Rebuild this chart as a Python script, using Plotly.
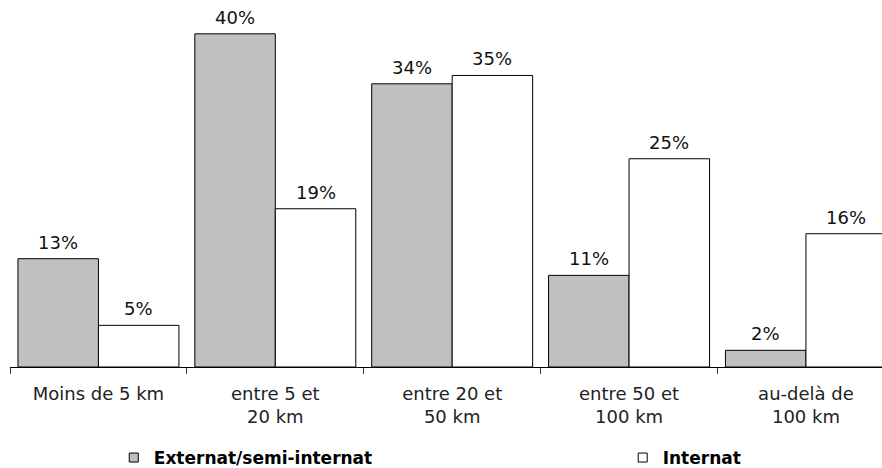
import plotly.graph_objects as go

# Distance between home and school, share of pupils per regime
categories = [
    "Moins de 5 km",
    "entre 5 et<br>20 km",
    "entre 20 et<br>50 km",
    "entre 50 et<br>100 km",
    "au-delà de<br>100 km",
]
externat = [13, 40, 34, 11, 2]
internat = [5, 19, 35, 25, 16]
series_names = ["Externat/semi-internat", "Internat"]

fill_externat = "#C0C0C0"
fill_internat = "#FFFFFF"
edge = "#000000"
font_family = "DejaVu Sans, Verdana, sans-serif"

bargap = 0.09
half_bar = (1 - bargap) / 4  # centre offset of each bar within its group

fig = go.Figure()

for vals, fill in ((externat, fill_externat), (internat, fill_internat)):
    fig.add_trace(go.Bar(
        x=categories,
        y=vals,
        marker=dict(color=fill, line=dict(color=edge, width=1)),
        showlegend=False,
        hoverinfo="skip",
    ))

# value labels above each bar
for side, vals in ((-1, externat), (1, internat)):
    for i, v in enumerate(vals):
        fig.add_annotation(
            x=i + side * half_bar, y=v,
            xref="x", yref="y",
            text=f"{v}%",
            showarrow=False,
            yanchor="bottom",
            yshift=4,
            font=dict(family=font_family, size=18, color="#111111"),
        )

# legend keys: small square markers, one legend box per series
for name, fill, leg in ((series_names[0], fill_externat, "legend"),
                        (series_names[1], fill_internat, "legend2")):
    fig.add_trace(go.Scatter(
        x=[None], y=[None],
        mode="markers",
        name=name,
        marker=dict(symbol="square", size=9, color=fill,
                    line=dict(color=edge, width=1)),
        legend=leg,
    ))

legend_font = dict(family=font_family, size=17, color="#000000", weight="bold")

fig.update_layout(
    width=882,
    height=468,
    margin=dict(l=10, r=0, t=0, b=101),
    paper_bgcolor="white",
    plot_bgcolor="white",
    barmode="group",
    bargap=bargap,
    bargroupgap=0,
    xaxis=dict(
        type="category",
        range=[-0.5, 4.43],
        showline=True,
        linecolor="#000000",
        linewidth=1,
        ticks="outside",
        tickson="boundaries",
        ticklen=6,
        tickcolor="#333333",
        showgrid=False,
        tickfont=dict(family=font_family, size=18, color="#222222"),
        ticklabelstandoff=10,
    ),
    yaxis=dict(
        range=[0, 44.06],
        visible=False,
        showgrid=False,
        zeroline=False,
    ),
    legend=dict(
        orientation="h",
        xref="container", yref="container",
        x=0.129, y=0.0214,
        xanchor="left", yanchor="middle",
        font=legend_font,
        itemwidth=30,
        bgcolor="rgba(0,0,0,0)",
    ),
    legend2=dict(
        orientation="h",
        xref="container", yref="container",
        x=0.706, y=0.0214,
        xanchor="left", yanchor="middle",
        font=legend_font,
        itemwidth=30,
        bgcolor="rgba(0,0,0,0)",
    ),
)

fig.write_html("out.html")
